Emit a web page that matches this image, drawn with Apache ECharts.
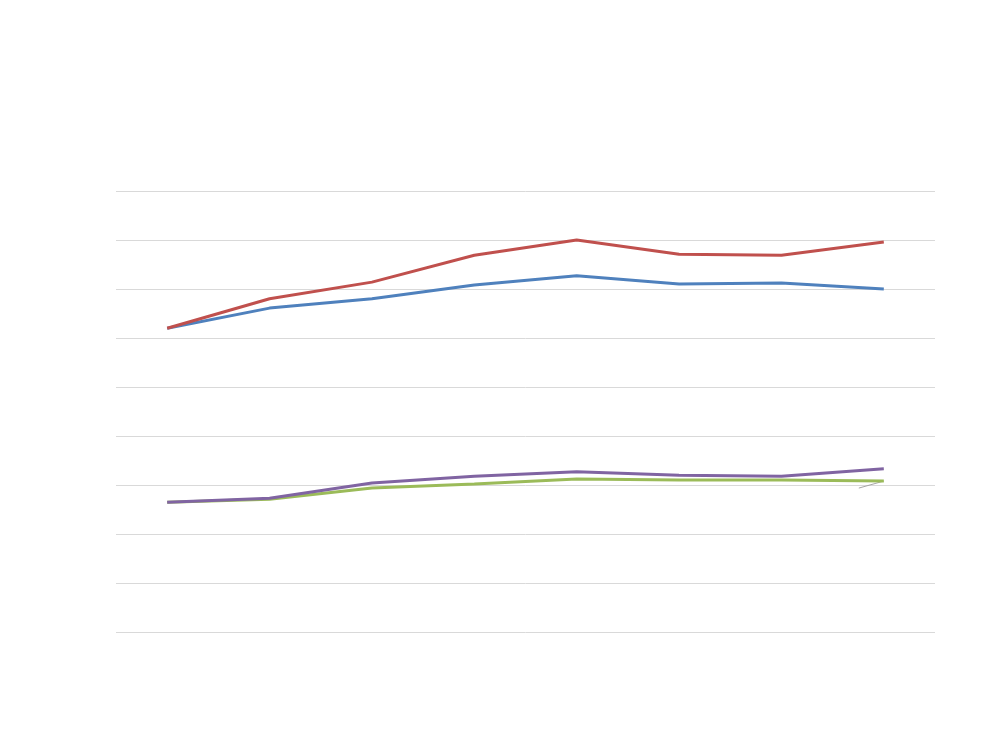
<!DOCTYPE html>
<html>
<head>
<meta charset="utf-8">
<script src="https://cdn.jsdelivr.net/npm/echarts@6/dist/echarts.min.js"></script>
<style>html,body{margin:0;padding:0;background:#fff}#c{width:1000px;height:750px}</style>
</head>
<body>
<div id="c"></div>
<script>
var categories = ['1','2','3','4','5','6','7','8'];
var seriesRed = [6.20, 6.80, 7.14, 7.69, 8.00, 7.71, 7.69, 7.96];
var seriesBlue = [6.20, 6.61, 6.80, 7.08, 7.27, 7.10, 7.12, 7.00];
var seriesPurple = [2.65, 2.73, 3.04, 3.18, 3.27, 3.20, 3.18, 3.33];
var seriesGreen = [2.65, 2.71, 2.94, 3.02, 3.12, 3.10, 3.10, 3.08];

var chart = echarts.init(document.getElementById('c'), null, {renderer: 'canvas'});
function mk(name, data, color) {
  return {
    name: name, type: 'line', data: data, symbol: 'none', smooth: false,
    lineStyle: {color: color, width: 3}, itemStyle: {color: color}
  };
}
chart.setOption({
  animation: false,
  backgroundColor: '#ffffff',
  grid: {left: 116, right: 65, top: 191, bottom: 118},
  xAxis: {
    type: 'category', data: categories, boundaryGap: true,
    axisLine: {show: false}, axisTick: {show: false}, axisLabel: {show: false}
  },
  yAxis: {
    type: 'value', min: 0, max: 9, interval: 1,
    axisLine: {show: false}, axisTick: {show: false}, axisLabel: {show: false},
    splitLine: {show: true, lineStyle: {color: '#d9d9d9', width: 1}}
  },
  series: [
    mk('Blue', seriesBlue, '#4F81BD'),
    mk('Red', seriesRed, '#C0504D'),
    mk('Green', seriesGreen, '#9BBB59'),
    mk('Purple', seriesPurple, '#8064A2')
  ]
});
// leader line of the (empty) data label on the last green point
var last = seriesGreen.length - 1;
var p = chart.convertToPixel({seriesIndex: 2}, [last, seriesGreen[last]]);
chart.setOption({
  graphic: [{
    type: 'line', z: 1,
    shape: {x1: p[0], y1: p[1], x2: p[0] - 25, y2: p[1] + 7},
    style: {stroke: '#a6a6a6', lineWidth: 1}
  }]
});
</script>
</body>
</html>
